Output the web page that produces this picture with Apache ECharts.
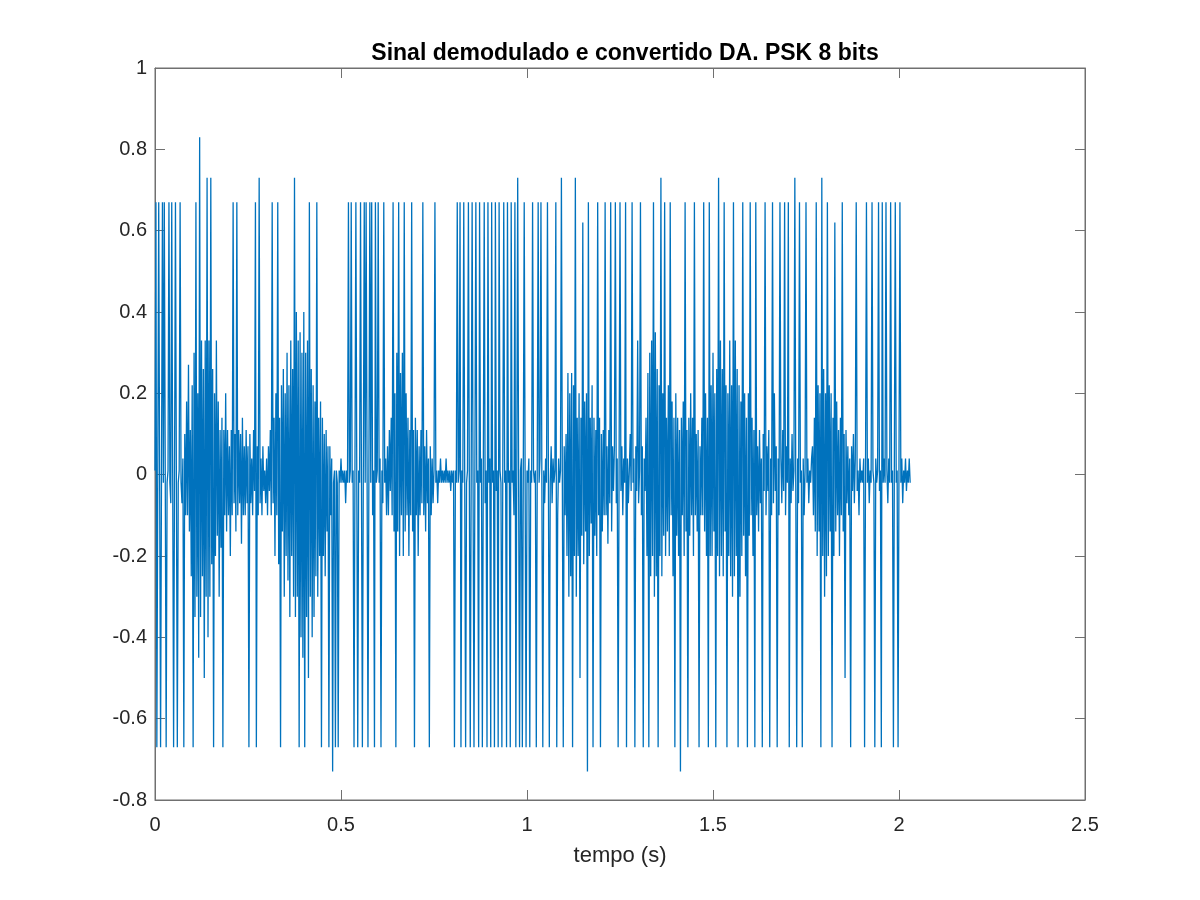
<!DOCTYPE html>
<html>
<head>
    <meta charset="UTF-8">
    <script type="text/javascript" src="https://cdn.jsdelivr.net/npm/echarts@6/dist/echarts.min.js"></script>
    <style type="text/css">
        *{
            margin: 0;
            padding: 0;
        }
        body{
            background: #fff;
        }
        #main{
            width: 1200px;
            height: 900px;
        }
    </style>
</head>
<body>
<div id="main"></div>
<script type="text/javascript">

    // sample period of the plotted signal (s)
    var dt = 0.0025;

    // signal, segment by segment (t = i * dt)
    // 0 - 0.08 s : start, spikes only
    var seg1 = [0.01, 0.67, -0.67, 0.01, 0.67, -0.02, -0.67, 0.01, 0.67, -0.02,
        0.67, 0.01, -0.67, -0.02, 0.01, 0.67, -0.02, -0.07, 0.67, 0.01,
        -0.67, 0.01, 0.67, -0.02, -0.67, -0.02, 0.01, 0.67, -0.02, -0.07,
        0.04, -0.67];
    // 0.08 - 0.30 s : first burst
    var seg2 = [0.1, -0.1, 0.18, -0.1, 0.27, -0.14, 0.11, -0.25, 0.22, -0.67,
        0.3, -0.35, 0.67, -0.3, 0.2, -0.45, 0.83, -0.35, 0.33, -0.25,
        0.26, -0.5, 0.33, -0.3, 0.73, -0.4, 0.33, -0.3, 0.73, -0.22,
        0.26, -0.67, 0.2, -0.2, 0.33, -0.15, 0.18, -0.3, 0.11, -0.18,
        0.14, -0.67, 0.11, -0.1, 0.2, -0.14, 0.11, -0.1, 0.07, -0.2,
        0.11, -0.1, 0.67, -0.07, 0.1, -0.14, 0.67, -0.1, 0.11, -0.07,
        0.1, -0.17, 0.14, -0.1, 0.07, -0.1, 0.11, -0.07, 0.07, -0.67,
        0.1, -0.07, 0.04, -0.1, 0.11, -0.04, 0.67, -0.67, 0.07, -0.1,
        0.73, -0.07, 0.04, -0.1, 0.07, -0.04, 0.01, -0.07];
    // 0.30 - 0.48 s : second burst
    var seg3 = [0.04, -0.1, 0.07, -0.04, 0.11, -0.1, 0.67, -0.07, 0.14, -0.2,
        0.2, -0.1, 0.67, -0.22, 0.14, -0.67, 0.22, -0.14, 0.26, -0.3,
        0.2, -0.2, 0.3, -0.26, 0.22, -0.35, 0.33, -0.2, 0.26, -0.3,
        0.73, -0.35, 0.4, -0.3, 0.33, -0.67, 0.35, -0.4, 0.3, -0.45,
        0.4, -0.67, 0.3, -0.35, 0.33, -0.5, 0.67, -0.3, 0.26, -0.4,
        0.22, -0.35, 0.18, -0.25, 0.67, -0.3, 0.14, -0.2, 0.18, -0.67,
        0.14, -0.2, 0.1, -0.25, 0.11, -0.14, 0.07, -0.67, 0.07, -0.1, 0.04, -0.73];
    // 0.48 - 0.625 s : quiet, spikes
    var seg4 = [-0.02, 0.01, -0.67, 0.01, -0.02, -0.67, 0.01, -0.02, 0.04, -0.02,
        0.01, -0.02, 0.01, -0.07, 0.01, -0.02, 0.67, -0.02, 0.01, 0.67,
        -0.02, 0.01, -0.67, 0.01, 0.67, -0.02, -0.67, 0.01, -0.02, 0.67,
        -0.02, -0.67, 0.01, 0.67, -0.02, 0.67, 0.04, -0.67, 0.01, 0.67,
        -0.02, 0.67, -0.1, 0.01, -0.67, 0.67, -0.02, 0.01, 0.67, -0.02,
        0.04, -0.67, 0.01, -0.07, 0.67, -0.02, 0.04, -0.1];
    // 0.625 - 0.75 s : third burst
    var seg5 = [0.07, -0.1, 0.11, -0.04, 0.14, -0.1, 0.67, -0.14, 0.2, -0.67,
        0.3, -0.14, 0.67, -0.2, 0.25, -0.1, 0.3, -0.2, 0.67, -0.14,
        0.2, -0.1, 0.14, -0.2, 0.11, -0.1, 0.67, -0.14, 0.11, -0.67,
        0.14, -0.1, 0.11, -0.2, 0.07, -0.1, 0.11, -0.07, 0.67, -0.1,
        0.07, -0.14, 0.11, -0.07, 0.04, -0.67, 0.07, -0.1, 0.04, -0.07];
    // 0.75 - 1.105 s : quiet, dense spikes
    var seg6 = [0.01, 0.67, -0.02, 0.01, -0.07, 0.01, -0.02, 0.04, -0.02, 0.01,
        -0.02, 0.01, -0.02, 0.04, -0.02, 0.01, -0.02, 0.01, -0.04, 0.01,
        -0.02, 0.01, -0.67, 0.01, -0.02, 0.67, -0.02, 0.01, 0.67, -0.67,
        0.01, -0.02, 0.67, 0.01, -0.67, -0.02, 0.01, 0.67, -0.02, -0.67,
        0.01, 0.67, -0.02, -0.67, 0.04, 0.67, -0.02, 0.01, -0.67, 0.67,
        -0.02, 0.04, -0.67, 0.01, 0.67, -0.07, 0.01, -0.67, 0.67, -0.02,
        0.04, -0.67, 0.67, -0.02, 0.01, -0.67, 0.67, -0.04, 0.01, -0.67,
        0.67, 0.01, -0.02, -0.67, 0.04, 0.67, -0.02, 0.01, -0.67, 0.67,
        -0.02, 0.01, -0.67, 0.67, -0.02, 0.01, -0.1, 0.67, -0.67, 0.01,
        0.73, -0.02, -0.67, 0.01, 0.04, -0.67, 0.01, 0.67, -0.02, -0.67,
        0.01, -0.02, 0.04, -0.67, 0.01, -0.02, 0.67, 0.01, -0.02, 0.01,
        -0.67, 0.01, 0.67, -0.02, 0.04, 0.67, -0.02, -0.67, 0.01, -0.07,
        0.04, -0.02, 0.67, 0.01, -0.67, -0.02, 0.07, -0.07, 0.04, -0.02,
        0.01, 0.67, -0.67, -0.1, 0.04, -0.02, 0.01, 0.73, -0.02, -0.67, 0.07, -0.1, 0.1];
    // 1.105 - 1.23 s : fourth burst
    var seg7 = [-0.2, 0.25, -0.3, 0.2, -0.25, 0.25, -0.67, 0.22, -0.2, 0.73,
        -0.3, 0.14, -0.2, 0.2, -0.5, 0.14, -0.15, 0.62, -0.22, 0.18,
        -0.14, 0.2, -0.73, 0.67, -0.2, 0.14, -0.12, 0.22, -0.67, 0.14,
        -0.15, 0.11, -0.2, 0.67, -0.1, 0.14, -0.67, 0.1, -0.14, 0.11,
        -0.1, 0.67, -0.1, 0.07, -0.17, 0.11, -0.07, 0.67, -0.14, 0.07];
    // 1.23 - 1.32 s
    var seg8 = [-0.04, 0.07, 0.67, -0.07, 0.04, -0.67, 0.01, 0.67, -0.04, 0.07,
        -0.1, 0.04, -0.02, 0.67, -0.67, 0.04, -0.07, 0.01, 0.1, -0.04,
        0.67, -0.02, 0.04, -0.67, 0.07, -0.04, 0.33, -0.07, 0.01, 0.67,
        -0.1, 0.07, -0.67, 0.04, -0.04];
    // 1.32 - 1.47 s : fifth burst
    var seg9 = [0.14, -0.2, 0.25, -0.67, 0.3, -0.25, 0.33, -0.2, 0.67, -0.3,
        0.35, -0.25, 0.26, -0.67, 0.22, -0.2, 0.73, -0.25, 0.2, -0.15,
        0.67, -0.2, 0.14, -0.14, 0.22, -0.2, 0.67, -0.1, 0.18, -0.25,
        0.14, -0.67, 0.2, -0.15, 0.14, -0.2, 0.11, -0.73, 0.14, -0.1,
        0.18, -0.2, 0.67, -0.14, 0.11, -0.67, 0.14, -0.15, 0.2, -0.1,
        0.14, -0.2, 0.67, -0.1, 0.1, -0.14, 0.11, -0.67, 0.07, -0.1];
    // 1.47 - 1.63 s : sixth burst
    var seg10 = [0.14, -0.1, 0.67, -0.14, 0.2, -0.2, 0.14, -0.67, 0.67, -0.2,
        0.22, -0.2, 0.3, -0.14, 0.2, -0.67, 0.26, -0.2, 0.73, -0.25,
        0.33, -0.2, 0.26, -0.25, 0.67, -0.14, 0.22, -0.67, 0.2, -0.2,
        0.33, -0.25, 0.22, -0.3, 0.67, -0.25, 0.33, -0.2, 0.26, -0.67,
        0.22, -0.3, 0.18, -0.2, 0.67, -0.15, 0.2, -0.25, 0.14, -0.67,
        0.2, -0.15, 0.67, -0.1, 0.14, -0.2, 0.11, -0.67, 0.67, -0.1, 0.07, -0.14, 0.11];
    // 1.63 - 1.77 s
    var seg11 = [-0.07, 0.04, -0.67, 0.1, -0.04, 0.67, -0.1, 0.07, -0.04, 0.11,
        -0.67, 0.04, -0.1, 0.67, -0.07, 0.2, -0.04, 0.07, -0.67, 0.04,
        -0.1, 0.67, 0.04, -0.07, 0.11, -0.04, 0.67, -0.1, 0.07, -0.02,
        0.67, -0.67, 0.04, -0.07, 0.1, -0.04, 0.01, 0.73, -0.02, -0.67,
        0.04, -0.07, 0.67, -0.02, 0.01, -0.67, 0.04, -0.1, 0.01, 0.67,
        -0.02, 0.04, -0.07, 0.01, -0.02, 0.04];
    // 1.77 - 1.90 s : seventh burst
    var seg12 = [0.07, -0.1, 0.14, -0.14, 0.67, -0.2, 0.22, -0.14, 0.2, -0.67,
        0.73, -0.2, 0.26, -0.3, 0.2, -0.25, 0.67, -0.2, 0.22, -0.14,
        0.2, -0.67, 0.14, -0.2, 0.62, -0.14, 0.18, -0.1, 0.11, -0.2,
        0.14, -0.1, 0.67, -0.14, 0.1, -0.5, 0.11, -0.07, 0.07, -0.1,
        0.04, -0.67, 0.07, -0.04, 0.1, -0.07, 0.04, 0.67, -0.04, 0.01,
        -0.1, 0.04, -0.02, 0.01];
    // 1.90 - 2.03 s : tail
    var seg13 = [-0.02, 0.04, -0.67, 0.01, 0.67, -0.02, 0.04, -0.07, 0.01, -0.02,
        0.67, 0.01, -0.02, -0.67, 0.04, -0.02, 0.01, 0.67, -0.04, 0.01,
        -0.67, 0.67, -0.02, 0.04, -0.02, 0.67, 0.01, -0.07, 0.04, -0.02,
        0.67, -0.02, 0.01, -0.67, 0.04, 0.67, -0.02, 0.01, -0.67, 0.04,
        0.67, -0.02, 0.04, -0.07, 0.01, -0.02, 0.04, -0.04, 0.01, -0.02, 0.04, -0.02];

    var xTicks = [0, 0.5, 1, 1.5, 2, 2.5];
    var yTicks = [-0.8, -0.6, -0.4, -0.2, 0, 0.2, 0.4, 0.6, 0.8, 1];

    var signal = [].concat(seg1, seg2, seg3, seg4, seg5, seg6, seg7,
        seg8, seg9, seg10, seg11, seg12, seg13);
    var points = [];
    for (var i = 0; i < signal.length; i++) {
        points.push([i * dt, signal[i]]);
    }

    var lineColor = '#707070';
    var textColor = '#262626';
    var font = 'Liberation Sans, Arial, sans-serif';
    var fmt = function (v) {
        return String(Math.round(v * 10) / 10);
    };

    var myChart = echarts.init(document.getElementById('main'));
    var option = {
        animation: false,
        backgroundColor: '#fff',
        title: {
            text: 'Sinal demodulado e convertido DA. PSK 8 bits',
            left: 620,
            top: 37,
            textAlign: 'center',
            textStyle: {
                fontFamily: font,
                fontSize: 23,
                fontWeight: 'bold',
                color: '#000'
            }
        },
        grid: {
            left: 155,
            right: 115,
            top: 68,
            bottom: 100,
            show: true,
            borderColor: lineColor,
            borderWidth: 1,
            backgroundColor: '#fff'
        },
        xAxis: [{
            type: 'value',
            min: xTicks[0],
            max: xTicks[xTicks.length - 1],
            interval: 0.5,
            name: 'tempo (s)',
            nameLocation: 'middle',
            nameGap: 45,
            nameTextStyle: {
                fontFamily: font,
                fontSize: 22,
                color: textColor
            },
            axisLine: {onZero: false, lineStyle: {color: lineColor}},
            axisTick: {inside: true, length: 10, lineStyle: {color: lineColor}},
            axisLabel: {
                formatter: fmt,
                margin: 15,
                fontFamily: font,
                fontSize: 20,
                color: textColor
            },
            splitLine: {show: false}
        }, {
            type: 'value',
            position: 'top',
            min: xTicks[0],
            max: xTicks[xTicks.length - 1],
            interval: 0.5,
            axisLine: {onZero: false, lineStyle: {color: lineColor}},
            axisTick: {inside: true, length: 10, lineStyle: {color: lineColor}},
            axisLabel: {show: false},
            splitLine: {show: false}
        }],
        yAxis: [{
            type: 'value',
            min: yTicks[0],
            max: yTicks[yTicks.length - 1],
            interval: 0.2,
            axisLine: {show: true, onZero: false, lineStyle: {color: lineColor}},
            axisTick: {show: true, inside: true, length: 10, lineStyle: {color: lineColor}},
            axisLabel: {
                formatter: fmt,
                margin: 8,
                fontFamily: font,
                fontSize: 20,
                color: textColor
            },
            splitLine: {show: false}
        }, {
            type: 'value',
            position: 'right',
            min: yTicks[0],
            max: yTicks[yTicks.length - 1],
            interval: 0.2,
            axisLine: {show: true, onZero: false, lineStyle: {color: lineColor}},
            axisTick: {show: true, inside: true, length: 10, lineStyle: {color: lineColor}},
            axisLabel: {show: false},
            splitLine: {show: false}
        }],
        series: [{
            type: 'line',
            data: points,
            showSymbol: false,
            symbol: 'none',
            sampling: null,
            lineStyle: {
                color: '#0072BD',
                width: 1.3
            }
        }]
    };
    myChart.setOption(option);

</script>
</body>
</html>
